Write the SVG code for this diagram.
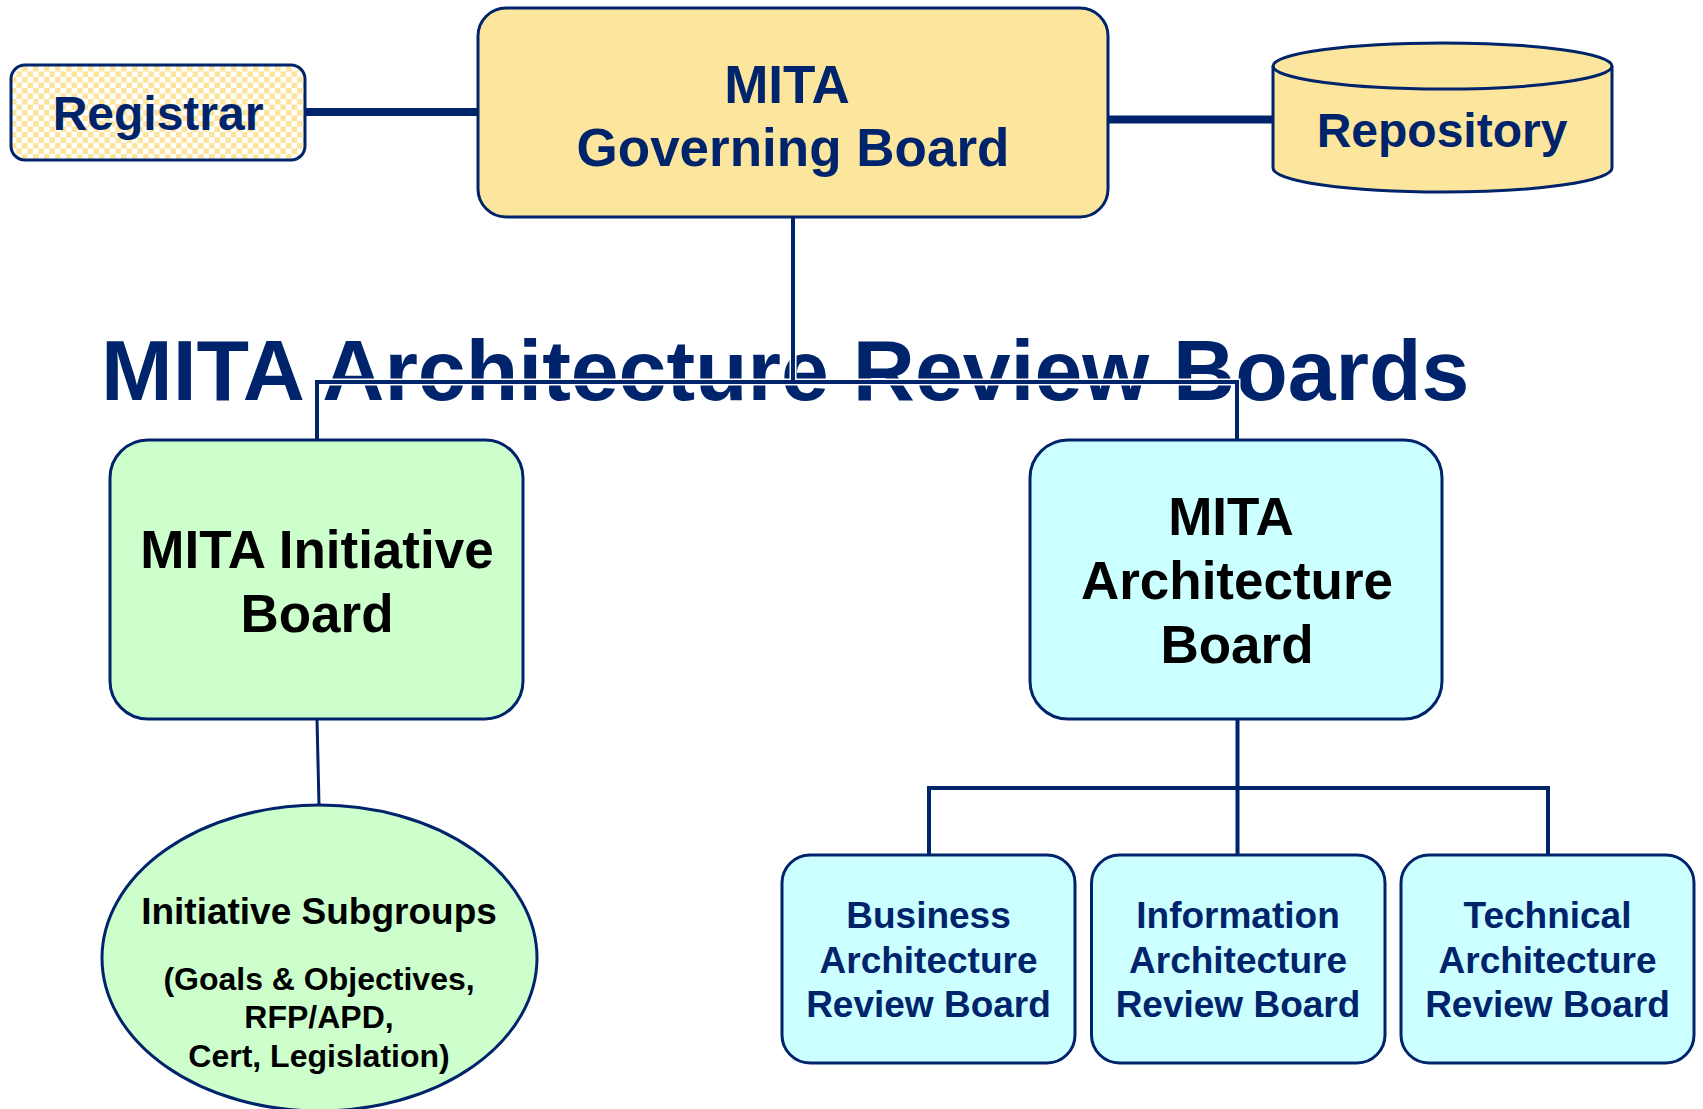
<svg xmlns="http://www.w3.org/2000/svg" width="1703" height="1109" viewBox="0 0 1703 1109">
<defs>
<pattern id="checker" x="0" y="0" width="11" height="11" patternUnits="userSpaceOnUse">
<rect width="11" height="11" fill="#ffffff"/>
<rect width="5.5" height="5.5" fill="#fce49c"/>
<rect x="5.5" y="5.5" width="5.5" height="5.5" fill="#fce49c"/>
</pattern>
<style>
.box{stroke:#00246b;stroke-width:3}
.t{font-family:"Liberation Sans",Arial,sans-serif;font-weight:bold;text-anchor:middle}
.navy{fill:#00246b}
.blk{fill:#000000}
.halo{stroke:#ffffff;stroke-width:7;fill:none;stroke-linecap:square}
.ln{stroke:#00246b;stroke-width:4;fill:none}
.thick{stroke:#00246b;stroke-width:8;fill:none}
.thin{stroke:#00246b;stroke-width:3;fill:none}
</style>
</defs>
<rect width="1703" height="1109" fill="#ffffff"/>

<text x="101" y="400" style="font-family:'Liberation Sans',Arial,sans-serif;font-weight:bold;font-size:86px" class="navy">MITA Architecture Review Boards</text>

<g id="connectors">
<line class="thick" x1="305" y1="112" x2="478" y2="112"/>
<line class="thick" x1="1108" y1="119.5" x2="1273" y2="119.5"/>
<path class="halo" d="M793,217 V382 M317,440 V382 H1237 V440"/>
<path class="ln" d="M793,217 V382 M317,440 V382 H1237 V440"/>
<line class="thin" x1="317" y1="719" x2="319" y2="805"/>
<path class="ln" d="M1237.5,719 V855 M929,855 V788 H1548 V855"/>
</g>

<g id="registrar">
<rect class="box" x="11" y="65" width="294" height="95" rx="14" fill="url(#checker)"/>
<text class="t navy" x="158" y="130" font-size="48">Registrar</text>
</g>

<g id="governing-board">
<rect class="box" x="478" y="8" width="630" height="209" rx="28" fill="#fce59c"/>
<text class="t navy" x="787" y="103" font-size="53">MITA</text>
<text class="t navy" x="793" y="166" font-size="53">Governing Board</text>
</g>

<g id="repository">
<path class="box" d="M1273,66 A169,23 0 0 1 1612,66 V168 A169,24 0 0 1 1273,168 Z" fill="#fce59c"/>
<path class="box" d="M1273,66 A169,23 0 0 0 1612,66" fill="none"/>
<text class="t navy" x="1442" y="147" font-size="48">Repository</text>
</g>

<g id="initiative-board">
<rect class="box" x="110" y="440" width="413" height="279" rx="38" fill="#ccffcc"/>
<text class="t blk" x="317" y="568" font-size="53">MITA Initiative</text>
<text class="t blk" x="317" y="632" font-size="53">Board</text>
</g>

<g id="architecture-board">
<rect class="box" x="1030" y="440" width="412" height="279" rx="38" fill="#ccffff"/>
<text class="t blk" x="1231" y="535" font-size="53">MITA</text>
<text class="t blk" x="1237" y="599" font-size="53">Architecture</text>
<text class="t blk" x="1237" y="663" font-size="53">Board</text>
</g>

<g id="initiative-subgroups">
<ellipse class="box" cx="319.5" cy="958" rx="217.5" ry="153" fill="#ccffcc"/>
<text class="t blk" x="319" y="924" font-size="37">Initiative Subgroups</text>
<text class="t blk" x="319" y="990" font-size="32">(Goals &amp; Objectives,</text>
<text class="t blk" x="319" y="1028" font-size="32">RFP/APD,</text>
<text class="t blk" x="319" y="1067" font-size="32">Cert, Legislation)</text>
</g>

<g id="business-arb">
<rect class="box" x="782" y="855" width="293" height="208" rx="28" fill="#ccffff"/>
<text class="t navy" x="928.5" y="928" font-size="37">Business</text>
<text class="t navy" x="928.5" y="973" font-size="37">Architecture</text>
<text class="t navy" x="928.5" y="1017" font-size="37">Review Board</text>
</g>

<g id="information-arb">
<rect class="box" x="1091.5" y="855" width="293.5" height="208" rx="28" fill="#ccffff"/>
<text class="t navy" x="1238" y="928" font-size="37">Information</text>
<text class="t navy" x="1238" y="973" font-size="37">Architecture</text>
<text class="t navy" x="1238" y="1017" font-size="37">Review Board</text>
</g>

<g id="technical-arb">
<rect class="box" x="1401" y="855" width="293" height="208" rx="28" fill="#ccffff"/>
<text class="t navy" x="1547.5" y="928" font-size="37">Technical</text>
<text class="t navy" x="1547.5" y="973" font-size="37">Architecture</text>
<text class="t navy" x="1547.5" y="1017" font-size="37">Review Board</text>
</g>
</svg>
